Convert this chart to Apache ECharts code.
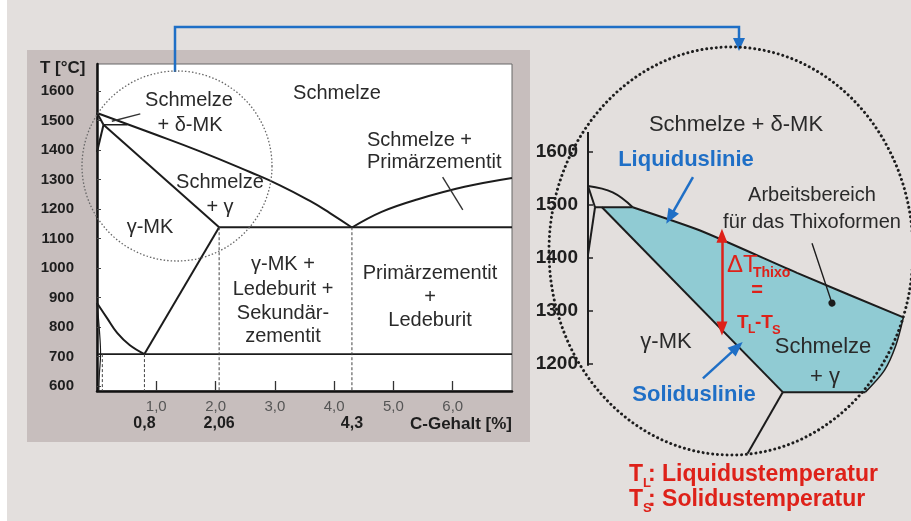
<!DOCTYPE html>
<html><head><meta charset="utf-8">
<script src="https://cdn.jsdelivr.net/npm/echarts@6/dist/echarts.min.js"></script>
<style>html,body{margin:0;padding:0;background:#fff}#c{width:911px;height:521px}</style>
</head><body><div id="c"></div>
<script>
const FONT = '"Liberation Sans", Arial, Helvetica, sans-serif';

// ---------- Left panel: Fe-Fe3C diagram (x: C-Gehalt in %, y: T in °C) ----------
const yTicksLeft = [600, 700, 800, 900, 1000, 1100, 1200, 1300, 1400, 1500, 1600];
const xTicksLeft = [1, 2, 3, 4, 5, 6];
const xSpecialTicks = [0.8, 2.06, 4.3];

const liquidus = [[0, 1525], [0.894, 1459], [1.737, 1395], [2.58, 1325], [3.086, 1280], [3.592, 1227], [3.929, 1186], [4.3, 1137]];
const cementiteLiquidus = [[4.3, 1137], [4.8, 1190], [5.4, 1232], [6.2, 1275], [7.0, 1305]];
const solidus = [[0.11, 1485], [2.06, 1138]];
const deltaAH = [[0, 1525], [0.11, 1485]];
const deltaHN = [[0.11, 1485], [0, 1393]];
const peritectic = [[0.11, 1485], [0.51, 1485]];
const eutectic = [[2.06, 1138], [7.0, 1138]];
const gsLine = [[0, 881], [0.17, 830], [0.34, 780], [0.55, 739], [0.8, 708]];
const seLine = [[0.8, 708], [2.06, 1138]];
const pskLine = [[0.02, 708], [7.0, 708]];
const gpqLine = [[0, 881], [0.04, 790], [0.06, 708], [0.04, 640], [0.03, 583]];
const pointerDelta = [[0.25, 1497], [0.73, 1522]];
const pointerCementite = [[5.83, 1308], [6.17, 1197]];
const dashedC = [0.09, 0.8, 2.06, 4.3];
const dashedTop = [708, 708, 1138, 1138];

// ---------- Right panel: enlarged section ----------
const yTicksRight = [1200, 1300, 1400, 1500, 1600];
const rAxisLine = [[0, 1196], [0, 1637]];
const rDeltaLiquidus = [[0, 1535], [0.26, 1523], [0.47, 1495]];
const rLiquidus = [[0.47, 1495], [1.18, 1451], [2.2, 1371], [3.32, 1287]];
const rAH = [[0, 1535], [0.074, 1495]];
const rHN = [[0.074, 1495], [0, 1405]];
const rPeritectic = [[0.074, 1495], [0.47, 1495]];
const rSolidus = [[0.147, 1495], [2.05, 1146]];
const rEutectic = [[2.05, 1146], [2.92, 1146]];
const rSE = [[2.05, 1146], [1.68, 1030]];
const rEdge = [[2.92, 1146], [3.12, 1187], [3.24, 1234], [3.32, 1287]];
const thixoArea = [[0.147, 1495], [0.47, 1495], [1.18, 1451], [2.2, 1371], [3.32, 1287],
                   [3.24, 1234], [3.12, 1187], [2.92, 1146], [2.05, 1146]];
const deltaTArrow = [[1.41, 1266], [1.41, 1441]];
const liquidusArrow = [[1.105, 1552], [0.863, 1476]];
const solidusArrow = [[1.21, 1172], [1.57, 1231]];
const workPointer = [[2.358, 1427], [2.568, 1314]];

const INK = '#1c1c1c';
const TXT = '#2a2a2a';
const RED = '#de2119';
const BLUE = '#1f6fc6';

function L(data, o) {
  o = o || {};
  return { type: 'line', data: data, xAxisIndex: 0, yAxisIndex: 0, showSymbol: false, symbol: 'none',
    smooth: o.smooth || false, silent: true, animation: false, z: 3, clip: true,
    lineStyle: { color: o.color || INK, width: o.w || 2, type: o.type || 'solid' } };
}
function R(data, o) {
  const s = L(data, o); s.xAxisIndex = 2; s.yAxisIndex = 1; return s;
}
function arrowSeries(pts, color, width, startSym, endSym, sizes) {
  return { type: 'line', data: [], xAxisIndex: 2, yAxisIndex: 1, silent: true, animation: false, z: 6,
    markLine: { silent: true, animation: false, label: { show: false },
      lineStyle: { color: color, width: width, type: 'solid' },
      emphasis: { disabled: true },
      data: [[{ coord: pts[0], symbol: startSym, symbolSize: sizes[0] },
              { coord: pts[1], symbol: endSym, symbolSize: sizes[1] }]] } };
}

const series = [
  L(liquidus, { smooth: 0.5 }), L(cementiteLiquidus, { smooth: 0.4 }), L(solidus), L(deltaAH), L(deltaHN),
  L(peritectic, { w: 1.6 }), L(eutectic), L(gsLine, { smooth: 0.4 }), L(seLine), L(pskLine, { w: 1.8 }),
  L(gpqLine, { w: 1.2, smooth: 0.4 }), L(pointerDelta, { w: 1.4, color: '#333' }), L(pointerCementite, { w: 1.4, color: '#333' })
];
dashedC.forEach((c, i) => series.push(L([[c, dashedTop[i]], [c, 583]], { w: 1, type: [3, 2], color: '#444' })));

series.push({ type: 'custom', xAxisIndex: 2, yAxisIndex: 1, data: [[1, 1300]], silent: true, animation: false, z: 1,
  renderItem: function (params, api) {
    return { type: 'polygon', shape: { points: thixoArea.map(p => api.coord(p)) }, style: { fill: '#90cbd3' } };
  } });
[rAxisLine, rDeltaLiquidus, rLiquidus, rAH, rHN, rPeritectic, rSolidus, rEutectic, rSE].forEach(d =>
  series.push(R(d, { smooth: d === rDeltaLiquidus ? 0.4 : (d === rLiquidus ? 0.2 : false) })));
series.push(R(rEdge, { w: 1.5, smooth: 0.3 }));
series.push(arrowSeries(deltaTArrow, RED, 2.5, 'triangle', 'triangle', [[11, 14], [11, 14]]));
series.push(arrowSeries(liquidusArrow, BLUE, 2.5, 'none', 'triangle', [1, [12, 15]]));
series.push(arrowSeries(solidusArrow, BLUE, 2.5, 'none', 'triangle', [1, [12, 15]]));
series.push(arrowSeries(workPointer, INK, 1.4, 'none', 'circle', [1, 7]));

function T(text, x, y, size, o) {
  o = o || {};
  return { type: 'text', z: 50, silent: true,
    style: { text: text, x: x, y: y, fill: o.fill || TXT, textAlign: o.align || 'center', textVerticalAlign: 'middle',
      font: (o.bold ? 'bold ' : '') + size + 'px ' + FONT } };
}

const graphics = [
  { type: 'rect', z: -10, silent: true, shape: { x: 7, y: 0, width: 904, height: 521 }, style: { fill: '#e3dfdd' } },
  { type: 'rect', z: -9, silent: true, shape: { x: 27, y: 50, width: 503, height: 392 }, style: { fill: '#c7bebd' } },
  { type: 'polyline', z: 40, silent: true, shape: { points: [[175, 72], [175, 27], [739, 27], [739, 40]] },
    style: { stroke: BLUE, lineWidth: 2.5, fill: null } },
  { type: 'polygon', z: 40, silent: true, shape: { points: [[733, 38], [745, 38], [739, 51]] }, style: { fill: BLUE } },
  { type: 'circle', z: 40, silent: true, shape: { cx: 177, cy: 166, r: 95 },
    style: { stroke: '#666', lineWidth: 1.3, lineDash: [1.5, 2], fill: null } },
  { type: 'ellipse', z: 40, silent: true, shape: { cx: 731, cy: 251, rx: 182, ry: 204 },
    style: { stroke: '#1e1e1e', lineWidth: 3, lineDash: [0.01, 4.8], lineCap: 'round', fill: null } },
  // left texts
  T('T [°C]', 40, 68, 17, { bold: true, align: 'left', fill: '#1e1e1e' }),
  T('C-Gehalt [%]', 512, 424, 17, { bold: true, align: 'right', fill: '#1e1e1e' }),
  T('Schmelze', 337, 93, 20), T('Schmelze', 189, 100, 20), T('+ δ-MK', 190, 125, 20),
  T('Schmelze', 220, 182, 20), T('+ γ', 220, 207, 20), T('γ-MK', 150, 227, 20),
  T('Schmelze +', 367, 140, 20, { align: 'left' }), T('Primärzementit', 367, 162, 20, { align: 'left' }),
  T('γ-MK +', 283, 264, 20), T('Ledeburit +', 283, 289, 20), T('Sekundär-', 283, 313, 20), T('zementit', 283, 336, 20),
  T('Primärzementit', 430, 273, 20), T('+', 430, 297, 20), T('Ledeburit', 430, 320, 20),
  // right texts
  T('Schmelze + δ-MK', 736, 125, 22), T('Liquiduslinie', 686, 160, 22, { bold: true, fill: BLUE }),
  T('Arbeitsbereich', 812, 195, 20), T('für das Thixoformen', 812, 222, 20),
  T('γ-MK', 666, 342, 22), T('Schmelze', 823, 347, 22), T('+ γ', 825, 377, 22),
  T('Soliduslinie', 694, 395, 22, { bold: true, fill: BLUE }),
  T('ΔT', 727, 265, 24, { align: 'left', fill: RED }), T('Thixo', 753, 273, 14, { bold: true, align: 'left', fill: RED }),
  T('=', 757, 290, 20, { bold: true, fill: RED }),
  T('T', 737, 323, 19, { bold: true, align: 'left', fill: RED }), T('L', 748, 330, 12, { bold: true, align: 'left', fill: RED }),
  T('-T', 755, 323, 19, { bold: true, align: 'left', fill: RED }), T('S', 772, 330, 13, { bold: true, align: 'left', fill: RED }),
  T('T', 629, 475, 23, { bold: true, align: 'left', fill: RED }), T('L', 643, 483, 13, { bold: true, align: 'left', fill: RED }),
  T(': Liquidustemperatur', 648, 475, 23, { bold: true, align: 'left', fill: RED }),
  T('T', 629, 500, 23, { bold: true, align: 'left', fill: RED }), T('S', 643, 508, 13, { bold: true, align: 'left', fill: RED }),
  T(': Solidustemperatur', 648, 500, 23, { bold: true, align: 'left', fill: RED })
];

const comma = v => String(v).indexOf('.') < 0 ? v.toFixed(1).replace('.', ',') : String(v).replace('.', ',');
const plain = v => String(v);

const option = {
  animation: false,
  textStyle: { fontFamily: FONT },
  grid: [
    { left: 97, top: 64, width: 415, height: 327, show: true, backgroundColor: '#ffffff', borderColor: '#666', borderWidth: 1, z: 0 },
    { left: 588, top: 132, width: 323, height: 337.5, show: false }
  ],
  xAxis: [
    { gridIndex: 0, type: 'value', min: 0, max: 7, position: 'bottom',
      axisLine: { show: true, onZero: false, lineStyle: { color: '#111', width: 2.5 } },
      axisTick: { show: true, inside: true, length: 10, customValues: xTicksLeft, lineStyle: { color: '#333', width: 1.3 } },
      axisLabel: { customValues: xTicksLeft, formatter: v => comma(v), color: '#555', fontSize: 15, margin: 8, fontFamily: FONT },
      splitLine: { show: false } },
    { gridIndex: 0, type: 'value', min: 0, max: 7, position: 'bottom',
      axisLine: { show: false }, axisTick: { show: false },
      axisLabel: { customValues: xSpecialTicks, formatter: v => comma(v), color: '#1e1e1e', fontWeight: 'bold', fontSize: 16, margin: 25, fontFamily: FONT },
      splitLine: { show: false } },
    { gridIndex: 1, type: 'value', min: 0, max: 3.4, show: false }
  ],
  yAxis: [
    { gridIndex: 0, type: 'value', min: 583, max: 1691,
      axisLine: { show: true, onZero: false, lineStyle: { color: '#111', width: 2.5 } },
      axisTick: { show: true, inside: true, length: 4, customValues: yTicksLeft, lineStyle: { color: '#444', width: 1 } },
      axisLabel: { customValues: yTicksLeft, formatter: plain, color: '#1e1e1e', fontWeight: 'bold', fontSize: 15, margin: 23, fontFamily: FONT },
      splitLine: { show: false } },
    { gridIndex: 1, type: 'value', min: 1000, max: 1637,
      axisLine: { show: false },
      axisTick: { show: true, inside: true, length: 5, customValues: yTicksRight, lineStyle: { color: '#222', width: 1.5 } },
      axisLabel: { customValues: yTicksRight, formatter: plain, color: '#1e1e1e', fontWeight: 'bold', fontSize: 19, margin: 10, fontFamily: FONT },
      splitLine: { show: false } }
  ],
  graphic: graphics,
  series: series
};

const chart = echarts.init(document.getElementById('c'), null, { renderer: 'canvas' });
chart.setOption(option);
</script></body></html>
